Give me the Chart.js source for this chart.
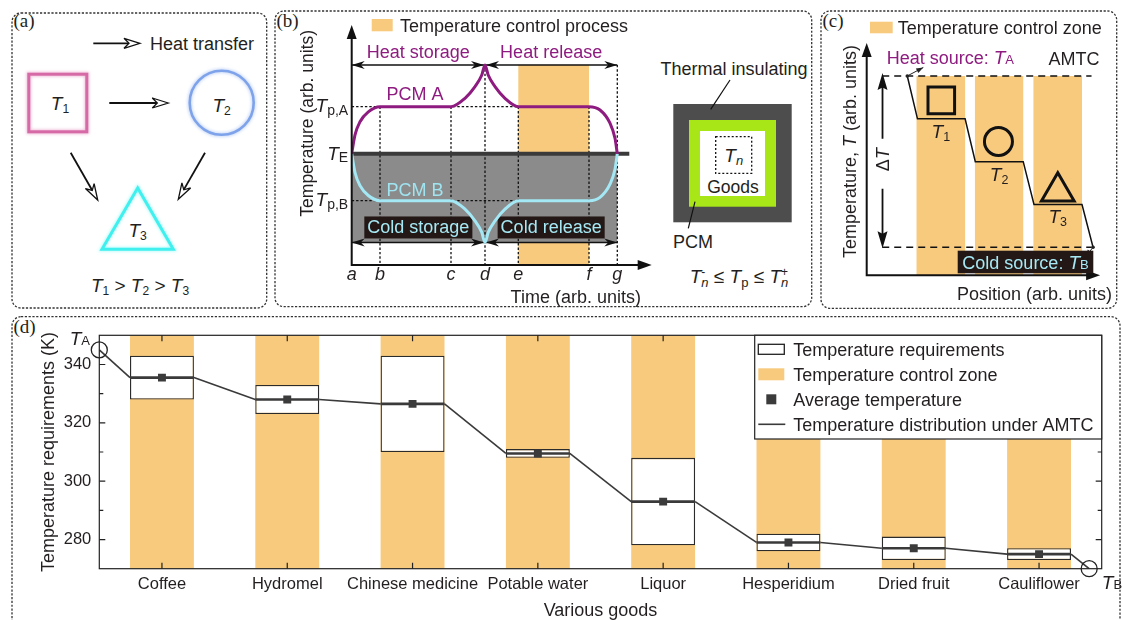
<!DOCTYPE html>
<html>
<head>
<meta charset="utf-8">
<script src="https://cdn.jsdelivr.net/npm/chart.js@4.4.1/dist/chart.umd.min.js"></script>
<style>
html, body { margin: 0; padding: 0; background: #fff; }
#wrap { position: relative; width: 1122px; height: 620px; overflow: hidden; }
#wrap svg, #wrap canvas { position: absolute; left: 0; top: 0; }
</style>
</head>
<body>
<div id="wrap">
<svg id="art" width="1122" height="620"></svg>
<canvas id="chartB" width="1122" height="620"></canvas>
<canvas id="chartC" width="1122" height="620"></canvas>
<canvas id="chartD" width="1122" height="620"></canvas>
</div>
<script>
const SANS = '"Liberation Sans", Arial, Helvetica, sans-serif';
const SERIF = '"Liberation Serif", "Times New Roman", serif';
const INK = '#231f20';
const ORANGE = '#f8ca7e';
const PURPLE = '#8e1b7f';
const ICE = '#a6e9f5';
const LABEL_BG = '#231815';

// ---------- (d) temperature requirements of goods ----------
const goods = ['Coffee', 'Hydromel', 'Chinese medicine', 'Potable water', 'Liquor', 'Hesperidium', 'Dried fruit', 'Cauliflower'];
const reqLow  = [328, 323, 310, 308, 278, 276, 273, 273];
const reqHigh = [343, 333, 343, 311, 308, 282, 281, 277];
const avgTemp = [335.5, 328, 326.5, 309.5, 293, 279, 277, 275];
const zoneRange = [270, 350];
// temperature distribution under AMTC (runs flat through each zone)
const amtcX = [0.5, 0.745, 1.255, 1.745, 2.255, 2.745, 3.255, 3.745, 4.255, 4.745, 5.255, 5.745, 6.255, 6.745, 7.255, 7.745, 8.255, 8.4];
const amtcT = [345, 335.5, 335.5, 328, 328, 326.5, 326.5, 309.5, 309.5, 293, 293, 279, 279, 277, 277, 275, 275, 270];
const sourceX = [0.5, 8.4];
const sourceT = [345, 270];
const yMajor = [280, 300, 320, 340];
const yMinor = [290, 310, 330];

// ---------- (b) PCM charging / discharging (arb. units) ----------
const timeNames = ['a', 'b', 'c', 'd', 'e', 'f', 'g'];
const timeAt = [0, 2.83, 9.93, 13.33, 16.66, 23.73, 26.56];
const levelE = 0, levelPA = 1, levelPB = -1, levelPeak = 1.89, levelTrough = -1.89;
const pcmAx = [0, 0.33, 0.83, 1.66, 2.83, 9.93, 11.33, 12.33, 13.0, 13.33, 13.66, 14.33, 15.33, 16.66, 23.73, 24.83, 25.83, 26.33, 26.56];
const pcmAy = [0, 0.40, 0.68, 0.89, 1, 1, 1.18, 1.43, 1.67, 1.89, 1.67, 1.43, 1.18, 1, 1, 0.93, 0.65, 0.33, 0];
const pcmBy = [0, -0.40, -0.68, -0.89, -1, -1, -1.18, -1.43, -1.67, -1.89, -1.67, -1.43, -1.18, -1, -1, -0.93, -0.65, -0.33, 0];

// ---------- (c) AMTC principle (arb. units) ----------
const stairX = [4.26, 5.33, 10.33, 11.4, 16.43, 17.56, 22.6, 23.76];
const stairT = [4, 3, 3, 2, 2, 1, 1, 0];
const zoneFrom = [5.23, 11.36, 17.5];
const zoneTo = [10.33, 16.43, 22.6];
const goodsX = [7.83, 13.83, 20.06];
const goodsT = [3.43, 2.47, 1.30];
const levelA = 4, levelB = 0;

Chart.defaults.font.family = SANS;
Chart.defaults.color = INK;

const f = (size, style = '') => `${style} ${size}px ${SANS}`;

function rich(ctx, parts, x, y, align, color) {
    ctx.save();
    ctx.fillStyle = color || INK;
    ctx.textAlign = 'left';
    ctx.textBaseline = 'alphabetic';
    let w = 0;
    parts.forEach(p => { ctx.font = p[1]; w += ctx.measureText(p[0]).width; });
    let cx = align === 'center' ? x - w / 2 : align === 'right' ? x - w : x;
    parts.forEach(p => {
        ctx.font = p[1];
        ctx.fillText(p[0], cx, y + (p[2] || 0));
        cx += ctx.measureText(p[0]).width;
    });
    ctx.restore();
}
function label(ctx, s, x, y, size, align, color, style) {
    rich(ctx, [[s, f(size, style || '')]], x, y, align, color);
}
function rotated(ctx, parts, x, y, color) {
    ctx.save();
    ctx.translate(x, y);
    ctx.rotate(-Math.PI / 2);
    rich(ctx, parts, 0, 6.3, 'center', color);
    ctx.restore();
}
function tri(ctx, x, y, ang, len, half, notch = 0) {
    ctx.save();
    ctx.translate(x, y);
    ctx.rotate(ang);
    ctx.beginPath();
    ctx.moveTo(0, 0);
    ctx.lineTo(-len, -half);
    ctx.lineTo(-len * (1 - notch), 0);
    ctx.lineTo(-len, half);
    ctx.closePath();
    ctx.fill();
    ctx.restore();
}

// ---------- static schematic parts (frames, panel a, box sketch) ----------
(function buildArt() {
    const frames = [[12, 13, 254.7, 295], [275, 11, 536.7, 295.7], [821, 11, 295.7, 297.3], [12, 316.7, 1108, 330]];
    let s = '<defs><filter id="glow" x="-40%" y="-40%" width="180%" height="180%"><feGaussianBlur stdDeviation="1.6"/></filter></defs>';
    frames.forEach(([x, y, w, h]) => {
        s += `<rect x="${x}" y="${y}" width="${w}" height="${h}" rx="9" fill="none" stroke="#333" stroke-width="1.3" stroke-dasharray="2.2 1.6"/>`;
    });
    const tag = (t, x, y) => `<text x="${x}" y="${y}" font-family='${SERIF}' font-size="19" fill="${INK}">${t}</text>`;
    s += tag('(a)', 13.5, 27) + tag('(b)', 276.5, 27) + tag('(c)', 822.5, 27) + tag('(d)', 13.5, 333);

    function openArrow(x1, y1, x2, y2) {
        const a = Math.atan2(y2 - y1, x2 - x1) * 180 / Math.PI;
        const L = Math.hypot(x2 - x1, y2 - y1);
        return `<g transform="translate(${x1} ${y1}) rotate(${a})"><line x1="0" y1="0" x2="${L - 10}" y2="0" stroke="#111" stroke-width="1.8"/>` +
            `<path d="M${L} 0 L${L - 16} -5 L${L - 11} 0 L${L - 16} 5 Z" fill="#fff" stroke="#111" stroke-width="1.3"/></g>`;
    }
    const sub = (main, low, size, x, y, anchor = 'middle') =>
        `<text x="${x}" y="${y}" text-anchor="${anchor}" font-family='${SANS}' font-size="${size}" fill="${INK}"><tspan font-style="italic">${main}</tspan><tspan font-size="${size * 0.64}" dy="3">${low}</tspan></text>`;

    // panel (a)
    s += openArrow(93.3, 43.3, 140, 43.3);
    s += `<text x="150" y="49.5" font-family='${SANS}' font-size="18" fill="${INK}">Heat transfer</text>`;
    s += `<rect x="28.8" y="74.2" width="58" height="57.6" fill="none" stroke="#f0bcd9" stroke-width="4.5" filter="url(#glow)"/>`;
    s += `<rect x="28.8" y="74.2" width="58" height="57.6" fill="none" stroke="#d66aa6" stroke-width="3"/>`;
    s += `<circle cx="221.7" cy="102.7" r="32" fill="none" stroke="#cbdaf7" stroke-width="4.5" filter="url(#glow)"/>`;
    s += `<circle cx="221.7" cy="102.7" r="32" fill="none" stroke="#7ea3ea" stroke-width="2.6"/>`;
    s += `<polygon points="137.7,188 102,249.2 173.3,249.2" fill="none" stroke="#b5faf8" stroke-width="4.5" filter="url(#glow)"/>`;
    s += `<polygon points="137.7,188 102,249.2 173.3,249.2" fill="none" stroke="#3ff0ee" stroke-width="3"/>`;
    s += sub('T', '1', 19, 60, 109.8) + sub('T', '2', 19, 221.7, 111.5) + sub('T', '3', 19, 137.7, 236.5);
    s += openArrow(109.3, 103, 168.3, 103);
    s += openArrow(70.7, 152.7, 97.7, 200);
    s += openArrow(205, 152.7, 178.3, 199.3);
    s += `<text x="140" y="291.8" text-anchor="middle" font-family='${SANS}' font-size="19" fill="${INK}">` +
        `<tspan font-style="italic">T</tspan><tspan font-size="12" dy="3">1</tspan><tspan dy="-3"> &gt; </tspan>` +
        `<tspan font-style="italic">T</tspan><tspan font-size="12" dy="3">2</tspan><tspan dy="-3"> &gt; </tspan>` +
        `<tspan font-style="italic">T</tspan><tspan font-size="12" dy="3">3</tspan></text>`;

    // panel (b) container sketch
    s += `<text x="734" y="74.6" text-anchor="middle" font-family='${SANS}' font-size="18" fill="${INK}">Thermal insulating</text>`;
    s += `<rect x="673.3" y="104" width="118.4" height="118.3" fill="#4d4d4d"/>`;
    s += `<rect x="689" y="120" width="87" height="86.7" fill="#a8e617"/>`;
    s += `<rect x="700" y="131" width="65" height="65" fill="#fff"/>`;
    s += `<rect x="715.7" y="136.7" width="36" height="36.6" fill="none" stroke="#111" stroke-width="1.3" stroke-dasharray="2 2"/>`;
    s += `<text x="733.7" y="161.5" text-anchor="middle" font-family='${SANS}' font-size="19" fill="${INK}"><tspan font-style="italic">T</tspan><tspan font-style="italic" font-size="13" dy="3">n</tspan></text>`;
    s += `<text x="733" y="193.3" text-anchor="middle" font-family='${SANS}' font-size="17.5" fill="${INK}">Goods</text>`;
    s += `<line x1="730" y1="80" x2="710.7" y2="109.3" stroke="#111" stroke-width="1.2"/>`;
    s += `<line x1="695" y1="201.7" x2="688.3" y2="228.3" stroke="#111" stroke-width="1.2"/>`;
    s += `<text x="693" y="248" text-anchor="middle" font-family='${SANS}' font-size="18" fill="${INK}">PCM</text>`;
    s += `<text x="739" y="283" text-anchor="middle" font-family='${SANS}' font-size="19" fill="${INK}">` +
        `<tspan font-style="italic">T</tspan><tspan font-size="12" dy="-7">-</tspan><tspan font-style="italic" font-size="13" dx="-4" dy="11">n</tspan>` +
        `<tspan dy="-4"> ≤ </tspan><tspan font-style="italic">T</tspan><tspan font-size="13" dy="4">p</tspan>` +
        `<tspan dy="-4"> ≤ </tspan><tspan font-style="italic">T</tspan><tspan font-size="12" dy="-7">+</tspan><tspan font-style="italic" font-size="13" dx="-7" dy="11">n</tspan></text>`;
    document.getElementById('art').innerHTML = s;
})();

// ---------- (b) ----------
const panelB = {
    id: 'panelB',
    beforeDatasetsDraw(chart) {
        const {ctx, chartArea: ca, scales: {x, y}} = chart;
        const X = v => x.getPixelForValue(v), Y = v => y.getPixelForValue(v);
        const t = timeAt;
        const top = Y(levelPeak), bot = Y(levelTrough);
        ctx.save();
        ctx.fillStyle = ORANGE;
        ctx.fillRect(X(t[4]), top, X(t[5]) - X(t[4]), ca.bottom - top);
        ctx.fillStyle = '#8b8b8b';
        ctx.fillRect(X(t[0]), Y(levelE), X(t[6]) - X(t[0]), bot - Y(levelE));

        ctx.strokeStyle = '#111';
        ctx.lineWidth = 1.3;
        ctx.setLineDash([2.4, 2]);
        ctx.beginPath();
        [levelPA, levelPB].forEach(v => { ctx.moveTo(X(t[0]), Y(v)); ctx.lineTo(X(t[4]), Y(v)); });
        [1, 2, 4, 5].forEach(i => { ctx.moveTo(X(t[i]), Y(levelPA)); ctx.lineTo(X(t[i]), ca.bottom); });
        [3, 6].forEach(i => { ctx.moveTo(X(t[i]), top); ctx.lineTo(X(t[i]), ca.bottom); });
        ctx.stroke();
        ctx.setLineDash([]);

        ctx.strokeStyle = '#3a3a3a';
        ctx.lineWidth = 4;
        ctx.beginPath();
        ctx.moveTo(X(t[0]), Y(levelE));
        ctx.lineTo(X(t[6] + 1.2), Y(levelE));
        ctx.stroke();

        ctx.strokeStyle = '#111';
        ctx.fillStyle = '#111';
        ctx.lineWidth = 1.5;
        [top, bot].forEach(py => {
            ctx.beginPath();
            ctx.moveTo(X(t[0]), py);
            ctx.lineTo(X(t[6]), py);
            ctx.stroke();
            tri(ctx, X(t[0]), py, Math.PI, 13, 4, 0.3);
            tri(ctx, X(t[3]) - 1, py, 0, 13, 4, 0.3);
            tri(ctx, X(t[3]) + 1, py, Math.PI, 13, 4, 0.3);
            tri(ctx, X(t[6]), py, 0, 13, 4, 0.3);
        });

        ctx.font = f(18);
        [['Cold storage', (t[0] + t[3]) / 2], ['Cold release', (t[3] + t[6]) / 2]].forEach(([s, xv]) => {
            const w = ctx.measureText(s).width + 6;
            ctx.fillStyle = LABEL_BG;
            ctx.fillRect(X(xv) - w / 2, bot - 26, w, 22);
        });
        ctx.restore();
    },
    afterDatasetsDraw(chart) {
        const {ctx, chartArea: ca, scales: {x, y}} = chart;
        const X = v => x.getPixelForValue(v), Y = v => y.getPixelForValue(v);
        const t = timeAt;
        const top = Y(levelPeak), bot = Y(levelTrough);
        ctx.save();
        ctx.strokeStyle = '#111';
        ctx.fillStyle = '#111';
        ctx.lineWidth = 2;
        ctx.beginPath();
        ctx.moveTo(X(t[0]), ca.bottom);
        ctx.lineTo(X(t[0]), ca.top + 10);
        ctx.moveTo(X(t[0]) - 1, ca.bottom);
        ctx.lineTo(ca.right - 10, ca.bottom);
        ctx.stroke();
        tri(ctx, X(t[0]), ca.top, -Math.PI / 2, 14, 5);
        tri(ctx, ca.right, ca.bottom, 0, 14, 5);
        ctx.restore();

        timeNames.forEach((n, i) => label(ctx, n, X(t[i]), ca.bottom + 14.5, 18, 'center', INK, 'italic'));
        rich(ctx, [['T', f(19, 'italic')], ['p,A', f(14), 3]], X(0) - 3.5, Y(levelPA) + 5.6, 'right');
        rich(ctx, [['T', f(19, 'italic')], ['E', f(14), 2]], X(0) - 3.5, Y(levelE) + 6, 'right');
        rich(ctx, [['T', f(19, 'italic')], ['p,B', f(14), 3]], X(0) - 3.5, Y(levelPB) + 5.6, 'right');

        label(ctx, 'PCM A', X(6.33), Y(1.285) + 6.5, 18, 'center', PURPLE);
        label(ctx, 'PCM B', X(6.33), Y(-0.77) + 6.5, 18, 'center', '#9fe4f0');
        label(ctx, 'Heat storage', X((t[0] + t[3]) / 2), top - 7, 18, 'center', PURPLE);
        label(ctx, 'Heat release', X((t[3] + t[6]) / 2), top - 7, 18, 'center', PURPLE);
        label(ctx, 'Cold storage', X((t[0] + t[3]) / 2), bot - 9, 18, 'center', ICE);
        label(ctx, 'Cold release', X((t[3] + t[6]) / 2), bot - 9, 18, 'center', ICE);

        ctx.fillStyle = ORANGE;
        ctx.fillRect(371.7, 19, 21, 12.3);
        label(ctx, 'Temperature control process', 400, 31.5, 18, 'left');
        rotated(ctx, [['Temperature (arb. units)', f(17.5)]], 306.7, 123.3);
        label(ctx, 'Time (arb. units)', 575.8, 303.3, 18, 'center');
    }
};

new Chart(document.getElementById('chartB'), {
    type: 'line',
    data: {
        datasets: [
            {
                label: 'PCM A',
                data: pcmAx.map((v, i) => ({x: v, y: pcmAy[i]})),
                borderColor: PURPLE,
                borderWidth: 3,
                pointRadius: 0,
                cubicInterpolationMode: 'monotone'
            },
            {
                label: 'PCM B',
                data: pcmAx.map((v, i) => ({x: v, y: pcmBy[i]})),
                borderColor: '#a3e8f4',
                borderWidth: 3,
                pointRadius: 0,
                cubicInterpolationMode: 'monotone'
            }
        ]
    },
    options: {
        responsive: false,
        animation: false,
        events: [],
        layout: { padding: { left: 351.7, top: 25, right: 470.3, bottom: 355 } },
        scales: {
            x: { type: 'linear', display: false, min: 0, max: 30 },
            y: { type: 'linear', display: false, min: -2.37, max: 2.74 }
        },
        plugins: { legend: { display: false }, tooltip: { enabled: false } }
    },
    plugins: [panelB]
});

// ---------- (c) ----------
const panelC = {
    id: 'panelC',
    beforeDatasetsDraw(chart) {
        const {ctx, chartArea: ca, scales: {x, y}} = chart;
        const X = v => x.getPixelForValue(v), Y = v => y.getPixelForValue(v);
        ctx.save();
        ctx.fillStyle = ORANGE;
        zoneFrom.forEach((z, i) => ctx.fillRect(X(z), Y(levelA), X(zoneTo[i]) - X(z), ca.bottom - Y(levelA)));

        ctx.strokeStyle = '#111';
        ctx.lineWidth = 1.5;
        ctx.setLineDash([7, 5]);
        ctx.beginPath();
        [levelA, levelB].forEach(v => { ctx.moveTo(X(1.63), Y(v)); ctx.lineTo(X(23.6), Y(v)); });
        ctx.stroke();
        ctx.setLineDash([]);

        // delta T arrow
        const ax = X(1.66), mid = Y((levelA + levelB) / 2) + 1;
        ctx.lineWidth = 1.8;
        ctx.fillStyle = '#111';
        ctx.beginPath();
        ctx.moveTo(ax, Y(levelA) + 10);
        ctx.lineTo(ax, mid - 24);
        ctx.moveTo(ax, mid + 26);
        ctx.lineTo(ax, Y(levelB) - 10);
        ctx.stroke();
        tri(ctx, ax, Y(levelA) - 3, -Math.PI / 2, 17, 5, 0.15);
        tri(ctx, ax, Y(levelB) + 1, Math.PI / 2, 17, 5, 0.15);
        rotated(ctx, [['Δ', f(18)], ['T', f(18, 'italic')]], ax, mid - 3);

        ctx.lineWidth = 2;
        ctx.beginPath();
        ctx.moveTo(ca.left, ca.bottom);
        ctx.lineTo(ca.left, ca.top + 10);
        ctx.moveTo(ca.left - 1, ca.bottom);
        ctx.lineTo(ca.right - 10, ca.bottom);
        ctx.stroke();
        tri(ctx, ca.left, ca.top, -Math.PI / 2, 14, 5);
        tri(ctx, ca.right, ca.bottom, 0, 14, 5);
        ctx.restore();
    },
    afterDatasetsDraw(chart) {
        const {ctx, scales: {x, y}} = chart;
        const X = v => x.getPixelForValue(v), Y = v => y.getPixelForValue(v);
        ctx.save();
        ctx.strokeStyle = '#222';
        ctx.fillStyle = '#222';
        ctx.lineWidth = 1;
        const pointer = (x0, y0, dx, dy) => {
            ctx.beginPath();
            ctx.moveTo(x0, y0);
            ctx.lineTo(x0 + dx, y0 + dy);
            ctx.stroke();
            tri(ctx, x0 + dx, y0 + dy, Math.atan2(dy, dx), 7, 2.6);
            ctx.beginPath();
            ctx.arc(x0, y0, 1.8, 0, Math.PI * 2);
            ctx.fill();
        };
        pointer(X(stairX[0]), Y(stairT[0]), 16, -8.5);
        pointer(X(stairX[stairX.length - 1]), Y(stairT[stairT.length - 1]), -7.6, 9.4);
        ctx.restore();

        ['1', '2', '3'].forEach((n, i) => {
            const lv = [3, 2, 1][i];
            rich(ctx, [['T', f(19, 'italic')], [n, f(12.5), 3]], X((zoneFrom[i] + zoneTo[i]) / 2), Y(lv) + 19, 'center');
        });

        rich(ctx, [['Heat source: ', f(18)], ['T', f(19, 'italic')], ['A', f(13)]], 886.7, 64.2, 'left', PURPLE);
        label(ctx, 'AMTC', 1074, 64.5, 18, 'center');
        ctx.fillStyle = LABEL_BG;
        ctx.fillRect(957.7, 250.7, 135.6, 22.6);
        rich(ctx, [['Cold source: ', f(18)], ['T', f(19, 'italic')], ['B', f(13)]], 1025.5, 268.5, 'center', ICE);

        ctx.fillStyle = ORANGE;
        ctx.fillRect(870, 21.7, 22.7, 11.6);
        label(ctx, 'Temperature control zone', 897.7, 33.8, 18, 'left');
        rotated(ctx, [['Temperature, ', f(18)], ['T', f(18, 'italic')], [' (arb. units)', f(18)]], 850, 151.5);
        label(ctx, 'Position (arb. units)', 1034.5, 299.8, 18, 'center');
    }
};

new Chart(document.getElementById('chartC'), {
    type: 'line',
    data: {
        datasets: [
            {
                label: 'AMTC',
                data: stairX.map((v, i) => ({x: v, y: stairT[i]})),
                borderColor: '#111',
                borderWidth: 1.5,
                pointRadius: 0,
                tension: 0
            },
            {
                type: 'scatter',
                label: 'Goods',
                data: goodsX.map((v, i) => ({x: v, y: goodsT[i]})),
                pointStyle: ['rect', 'circle', 'triangle'],
                pointRadius: [18.8, 14, 18.9],
                borderColor: '#111',
                borderWidth: 3,
                backgroundColor: 'rgba(0,0,0,0)'
            }
        ]
    },
    options: {
        responsive: false,
        animation: false,
        events: [],
        layout: { padding: { left: 866.7, top: 43, right: 10.3, bottom: 344.7 } },
        scales: {
            x: { type: 'linear', display: false, min: 0, max: 24.5 },
            y: { type: 'linear', display: false, min: -0.654, max: 4.77 }
        },
        plugins: { legend: { display: false }, tooltip: { enabled: false } }
    },
    plugins: [panelC]
});

// ---------- (d) ----------
const panelD = {
    id: 'panelD',
    afterDatasetsDraw(chart) {
        const {ctx, chartArea: ca, scales: {x, y}} = chart;
        ctx.save();
        ctx.strokeStyle = '#222';
        ctx.lineWidth = 1.2;
        ctx.strokeRect(ca.left, ca.top, ca.width, ca.height);
        ctx.beginPath();
        [[yMajor, 6], [yMinor, 4]].forEach(([vals, len]) => vals.forEach(v => {
            const p = y.getPixelForValue(v);
            ctx.moveTo(ca.left, p); ctx.lineTo(ca.left + len, p);
            ctx.moveTo(ca.right, p); ctx.lineTo(ca.right - len, p);
        }));
        goods.forEach((g, i) => {
            const p = x.getPixelForValue(i + 1);
            ctx.moveTo(p, ca.bottom); ctx.lineTo(p, ca.bottom - 6);
            ctx.moveTo(p, ca.top); ctx.lineTo(p, ca.top + 6);
        });
        ctx.stroke();

        // source labels
        const ax = x.getPixelForValue(sourceX[0]), ay = y.getPixelForValue(sourceT[0]);
        rich(ctx, [['T', f(19, 'italic')], ['A', f(13)]], ax - 9.3, ay - 5.3, 'right');
        const bx = x.getPixelForValue(sourceX[1]), by = y.getPixelForValue(sourceT[1]);
        rich(ctx, [['T', f(19, 'italic')], ['B', f(13)]], bx + 12.7, by + 20, 'left');

        // legend
        const lw = 347, lh = 103.7, lx = ca.right - lw, ly = ca.top;
        ctx.fillStyle = '#fff';
        ctx.fillRect(lx, ly, lw, lh);
        ctx.strokeRect(lx, ly, lw, lh);
        const ds = chart.data.datasets;
        [1, 0, 3, 2].forEach((di, r) => {
            const cy = ly + 14 + r * 25, sx = lx + 3.6;
            if (r === 0) {
                ctx.fillStyle = '#fff';
                ctx.lineWidth = 1.3;
                ctx.fillRect(sx, cy - 5, 26, 10);
                ctx.strokeRect(sx, cy - 5, 26, 10);
            } else if (r === 1) {
                ctx.fillStyle = ds[di].backgroundColor;
                ctx.fillRect(sx, cy - 6, 26, 12);
            } else if (r === 2) {
                ctx.fillStyle = ds[di].backgroundColor;
                ctx.fillRect(sx + 8, cy - 5, 10, 10);
            } else {
                ctx.strokeStyle = ds[di].borderColor;
                ctx.lineWidth = 1.6;
                ctx.beginPath();
                ctx.moveTo(sx, cy);
                ctx.lineTo(sx + 27, cy);
                ctx.stroke();
            }
            label(ctx, ds[di].label, lx + 38.6, cy + 6.4, 18, 'left');
        });
        ctx.restore();
    }
};

const slots = goods.map((g, i) => i + 1);
new Chart(document.getElementById('chartD'), {
    type: 'bar',
    data: {
        datasets: [
            {
                type: 'bar',
                label: 'Temperature control zone',
                data: slots.map(v => ({x: v, y: zoneRange})),
                backgroundColor: ORANGE,
                borderWidth: 0,
                grouped: false,
                barPercentage: 0.51,
                categoryPercentage: 1,
                order: 4
            },
            {
                type: 'bar',
                label: 'Temperature requirements',
                data: slots.map((v, i) => ({x: v, y: [reqLow[i], reqHigh[i]]})),
                backgroundColor: '#fff',
                borderColor: '#2b2b2b',
                borderWidth: 1.3,
                borderSkipped: false,
                grouped: false,
                barPercentage: 0.51,
                categoryPercentage: 1,
                order: 3
            },
            {
                type: 'line',
                label: 'Temperature distribution under AMTC',
                data: amtcX.map((v, i) => ({x: v, y: amtcT[i]})),
                borderColor: '#3a3a3a',
                borderWidth: 1.6,
                pointRadius: 0,
                tension: 0,
                segment: { borderWidth: c => (c.p0DataIndex % 2 === 1 ? 2.6 : 1.6) },
                order: 2
            },
            {
                type: 'scatter',
                label: 'Average temperature',
                data: slots.map((v, i) => ({x: v, y: avgTemp[i]})),
                pointStyle: 'rect',
                pointRadius: 5.6,
                backgroundColor: '#3b3b3b',
                borderWidth: 0,
                order: 1
            },
            {
                type: 'scatter',
                label: 'Sources',
                data: sourceX.map((v, i) => ({x: v, y: sourceT[i]})),
                pointStyle: 'circle',
                pointRadius: 8,
                borderColor: '#222',
                borderWidth: 1.3,
                backgroundColor: 'rgba(0,0,0,0)',
                clip: false,
                order: 0
            }
        ]
    },
    options: {
        responsive: false,
        animation: false,
        events: [],
        layout: { padding: { left: 34, top: 335.3, right: 20.3, bottom: 0 } },
        scales: {
            x: {
                type: 'linear',
                min: 0.5,
                max: 8.5,
                offset: false,
                afterBuildTicks: s => { s.ticks = slots.map(v => ({value: v})); },
                afterFit: s => { s.height = 51.3; },
                grid: { display: false, drawTicks: false },
                border: { display: false },
                ticks: {
                    autoSkip: false,
                    maxRotation: 0,
                    padding: 6,
                    font: { size: 16.5 },
                    color: INK,
                    callback: v => goods[v - 1]
                },
                title: {
                    display: true,
                    text: 'Various goods',
                    font: { size: 18, lineHeight: 1 },
                    padding: { top: 0, bottom: 0 },
                    color: INK
                }
            },
            y: {
                min: 270,
                max: 350,
                afterBuildTicks: s => { s.ticks = yMajor.map(v => ({value: v})); },
                afterFit: s => { s.width = 65.3; },
                grid: { display: false, drawTicks: false },
                border: { display: false },
                ticks: { padding: 8, font: { size: 16.5 }, color: INK },
                title: {
                    display: true,
                    text: 'Temperature requirements (K)',
                    font: { size: 18 },
                    padding: { top: 4, bottom: 0 },
                    color: INK
                }
            }
        },
        plugins: { legend: { display: false }, tooltip: { enabled: false } }
    },
    plugins: [panelD]
});
</script>
</body>
</html>
